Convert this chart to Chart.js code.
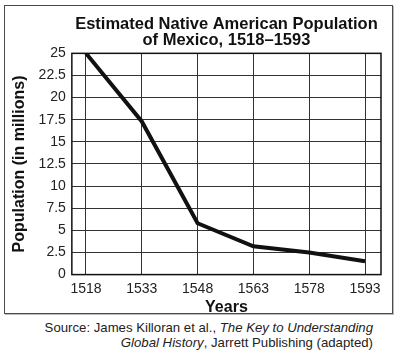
<!DOCTYPE html>
<html>
<head>
<meta charset="utf-8">
<script src="https://cdn.jsdelivr.net/npm/chart.js@4/dist/chart.umd.min.js"></script>
<style>
  html, body { margin: 0; padding: 0; background: #fff; }
  body { width: 400px; height: 354px; position: relative; overflow: hidden; font-family: "Liberation Sans", Arial, sans-serif; }
  #frame { position: absolute; left: 4px; top: 5px; width: 387px; height: 307px; border: 1.5px solid #4a4a4a; box-shadow: 1px 1px 0 #bbb; }
  #wrap { position: absolute; left: 0; top: 0; width: 400px; height: 318px; }
  #source { position: absolute; right: 27px; top: 320px; font-size: 13.2px; line-height: 15px; text-align: right; color: #222; white-space: nowrap; }
</style>
</head>
<body>
<div id="frame"></div>
<div id="wrap"><canvas id="c"></canvas></div>
<div id="source">Source: James Killoran et al., <i>The Key to Understanding</i><br><i>Global History</i>, Jarrett Publishing (adapted)</div>
<script>
const titleLines = ["Estimated Native American Population", "of Mexico, 1518\u20131593"];
const years = [1518, 1533, 1548, 1563, 1578, 1593];
const population = [25, 17.3, 5.8, 3.2, 2.5, 1.5];
const yTicks = [0, 2.5, 5, 7.5, 10, 12.5, 15, 17.5, 20, 22.5, 25];
const xTitle = "Years";
const yTitle = "Population (in millions)";

const frameBox = {
  id: 'frameBox',
  afterDatasetsDraw(chart) {
    const a = chart.chartArea, ctx = chart.ctx;
    ctx.save();
    ctx.strokeStyle = '#111';
    ctx.lineWidth = 1.5;
    ctx.strokeRect(a.left, a.top, a.right - a.left, a.bottom - a.top);
    ctx.restore();
  }
};

const fontFam = '"Liberation Sans", Arial, Helvetica, sans-serif';

new Chart(document.getElementById('c'), {
  type: 'line',
  data: {
    datasets: [{
      data: years.map((y, i) => ({ x: y, y: population[i] })),
      borderColor: '#111',
      borderWidth: 4,
      pointRadius: 0,
      tension: 0,
      fill: false,
      borderJoinStyle: 'miter'
    }]
  },
  options: {
    responsive: true,
    maintainAspectRatio: false,
    animation: false,
    layout: { padding: { left: 11, right: 19, top: 10, bottom: 2 } },
    plugins: {
      legend: { display: false },
      tooltip: { enabled: false },
      title: {
        display: true,
        text: titleLines,
        fullSize: false,
        color: '#111',
        font: { family: fontFam, size: 16.5, weight: 'bold', lineHeight: 0.98 },
        padding: { top: 6, bottom: 5 }
      }
    },
    scales: {
      x: {
        type: 'linear',
        min: 1514.2,
        max: 1597.3,
        afterBuildTicks: (axis) => { axis.ticks = years.map(v => ({ value: v })); },
        ticks: {
          autoSkip: false,
          maxRotation: 0,
          color: '#222',
          padding: 6,
          font: { family: fontFam, size: 14 },
          callback: (v) => String(v)
        },
        grid: { color: '#333', lineWidth: 1, drawTicks: false },
        border: { display: false },
        title: {
          display: true,
          text: xTitle,
          color: '#111',
          font: { family: fontFam, size: 16, weight: 'bold', lineHeight: 1.1 },
          padding: { top: -5, bottom: 0 }
        }
      },
      y: {
        min: 0,
        max: 25,
        afterBuildTicks: (axis) => { axis.ticks = yTicks.map(v => ({ value: v })); },
        ticks: {
          color: '#222',
          padding: 6,
          font: { family: fontFam, size: 14 },
          callback: (v) => String(v)
        },
        grid: { color: '#333', lineWidth: 1, drawTicks: false },
        border: { display: false },
        title: {
          display: true,
          text: yTitle,
          color: '#111',
          font: { family: fontFam, size: 16, weight: 'bold', lineHeight: 1.1 },
          padding: { top: 0, bottom: 4 }
        }
      }
    }
  },
  plugins: [frameBox]
});
</script>
</body>
</html>
